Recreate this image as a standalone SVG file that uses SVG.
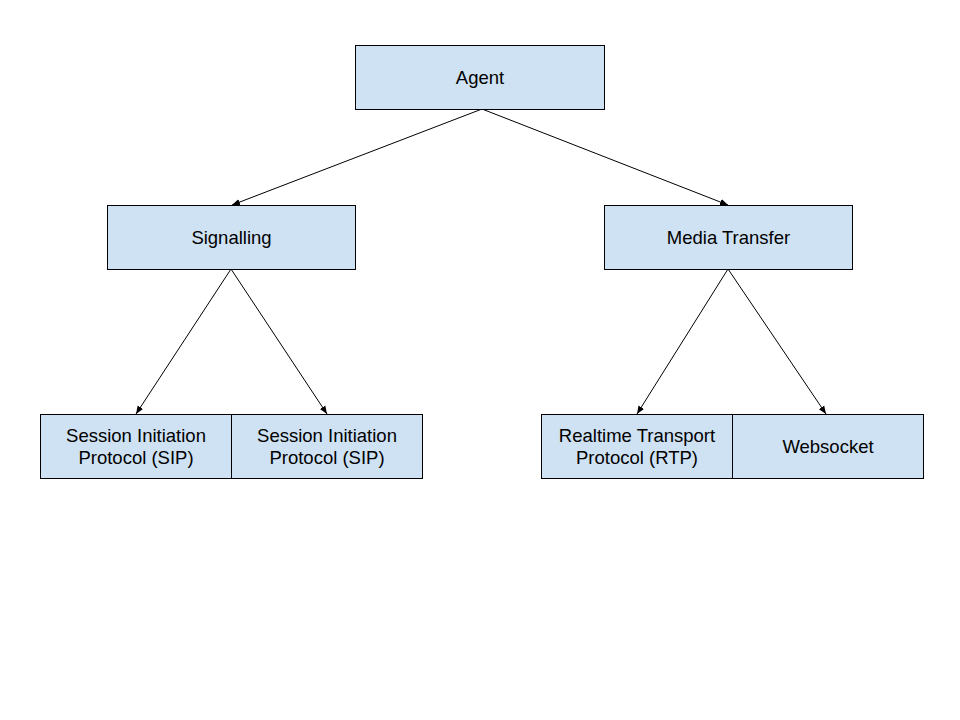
<svg xmlns="http://www.w3.org/2000/svg" width="960" height="720" viewBox="0 0 960 720">
<style>
.box{fill:#cfe2f3;stroke:#000;stroke-width:1}
.t{font-family:"Liberation Sans",Arial,sans-serif;font-size:18.5px;fill:#000;text-anchor:middle}
.c{stroke:#000;stroke-width:1;fill:none;marker-end:url(#ah)}
</style>
<defs>
<marker id="ah" viewBox="0 0 10 10" refX="10" refY="5" markerWidth="8" markerHeight="8" markerUnits="userSpaceOnUse" orient="auto">
<path d="M0,1 L10,5 L0,9 Z" fill="#000"/>
</marker>
</defs>
<rect width="960" height="720" fill="#fff"/>
<g id="connectors">
<line class="c" x1="482" y1="109" x2="232" y2="205"/>
<line class="c" x1="482" y1="109" x2="728" y2="205"/>
<line class="c" x1="231" y1="269" x2="136" y2="414"/>
<line class="c" x1="231" y1="269" x2="327" y2="414"/>
<line class="c" x1="728" y1="269" x2="637" y2="414"/>
<line class="c" x1="728" y1="269" x2="826" y2="414"/>
</g>
<g id="agent"><rect class="box" x="355.5" y="45.5" width="249" height="64"/><text class="t" x="480" y="84">Agent</text></g>
<g id="signalling"><rect class="box" x="107.5" y="205.5" width="248" height="64"/><text class="t" x="231.5" y="244">Signalling</text></g>
<g id="media"><rect class="box" x="604.5" y="205.5" width="248" height="64"/><text class="t" x="728.5" y="244">Media Transfer</text></g>
<g id="sip1"><rect class="box" x="40.5" y="414.5" width="191" height="64"/><text class="t" x="136" y="442">Session Initiation</text><text class="t" x="136" y="464">Protocol (SIP)</text></g>
<g id="sip2"><rect class="box" x="231.5" y="414.5" width="191" height="64"/><text class="t" x="327" y="442">Session Initiation</text><text class="t" x="327" y="464">Protocol (SIP)</text></g>
<g id="rtp"><rect class="box" x="541.5" y="414.5" width="191" height="64"/><text class="t" x="637" y="442">Realtime Transport</text><text class="t" x="637" y="464">Protocol (RTP)</text></g>
<g id="ws"><rect class="box" x="732.5" y="414.5" width="191" height="64"/><text class="t" x="828" y="453">Websocket</text></g>
</svg>
